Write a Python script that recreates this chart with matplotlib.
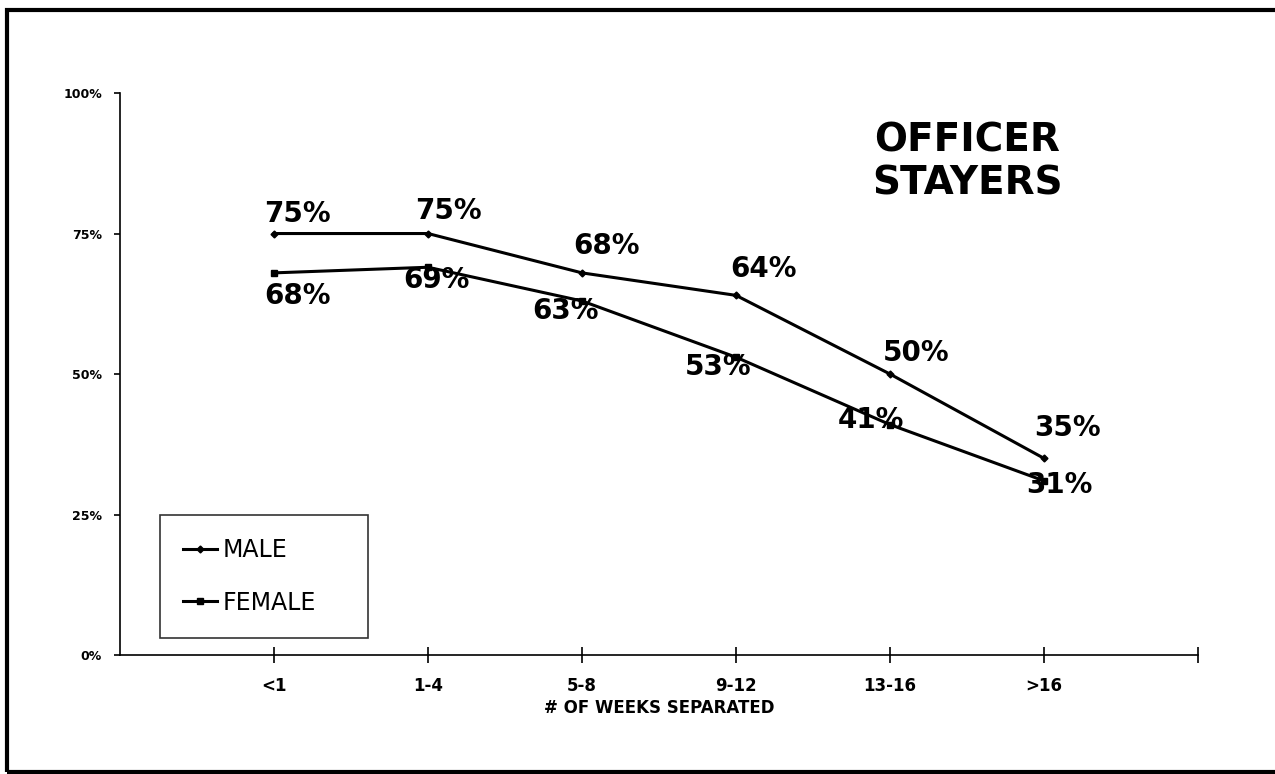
import matplotlib.pyplot as plt
from matplotlib.patches import Rectangle

weeks = ['<1', '1-4', '5-8', '9-12', '13-16', '>16']
male = [75, 75, 68, 64, 50, 35]
female = [68, 69, 63, 53, 41, 31]
y_ticks = [0, 25, 50, 75, 100]

# label offsets in points (dx, dy) for each point
male_off = [(17, 14), (15, 16), (18, 19), (20, 19), (19, 15), (17, 22)]
female_off = [(17, -17), (6, -9), (-12, -7), (-13, -7), (-14, 3), (11, -3)]

plt.rcParams['font.family'] = ['DejaVu Sans']

fig = plt.figure(figsize=(12.75, 7.74), dpi=100)
# scanned page frame
fig.patches.append(Rectangle((0.0055, 0.003), 0.996, 0.984, transform=fig.transFigure,
                             fill=False, lw=3, ec='black'))

ax = fig.add_axes([0.0941, 0.1537, 0.8455, 0.7261])
x = list(range(len(weeks)))

ax.plot(x, male, color='black', lw=2.2, marker='D', ms=3.5, label='MALE')
ax.plot(x, female, color='black', lw=2.2, marker='s', ms=4.5, label='FEMALE')

for i in x:
    ax.annotate(f'{male[i]}%', (i, male[i]), xytext=male_off[i], textcoords='offset points',
                ha='center', va='center', fontsize=20, fontweight='bold')
    ax.annotate(f'{female[i]}%', (i, female[i]), xytext=female_off[i], textcoords='offset points',
                ha='center', va='center', fontsize=20, fontweight='bold')

ax.set_xlim(-1, 6)
ax.set_ylim(0, 100)
ax.set_xticks(x + [6])
ax.set_xticklabels(weeks + [''], fontsize=12, fontweight='bold')
ax.set_yticks(y_ticks)
ax.set_yticklabels([f'{v}%' for v in y_ticks], fontsize=9, fontweight='bold')
ax.tick_params(axis='x', direction='inout', length=11, width=1.2, pad=10)
ax.tick_params(axis='y', direction='out', length=4, width=1.2, pad=9)
ax.spines['top'].set_visible(False)
ax.spines['right'].set_visible(False)
ax.spines['left'].set_linewidth(1.2)
ax.spines['bottom'].set_linewidth(1.2)

ax.set_xlabel('# OF WEEKS SEPARATED', fontsize=12, fontweight='bold', labelpad=3)

ax.text(0.786, 0.877, 'OFFICER\nSTAYERS', transform=ax.transAxes, ha='center', va='center',
        fontsize=28, fontweight='bold', linespacing=1.15)

leg = ax.legend(loc='lower left', bbox_to_anchor=(0.037, 0.03, 0.193, 0.2), mode='expand',
                fontsize=17, frameon=True, fancybox=False, edgecolor='black',
                handlelength=1.4, handletextpad=0.25, labelspacing=1.2, borderpad=1.0,
                borderaxespad=0)
leg.get_frame().set_linewidth(1.2)
leg.get_frame().set_facecolor('white')

fig.savefig('out.png', dpi=100)
